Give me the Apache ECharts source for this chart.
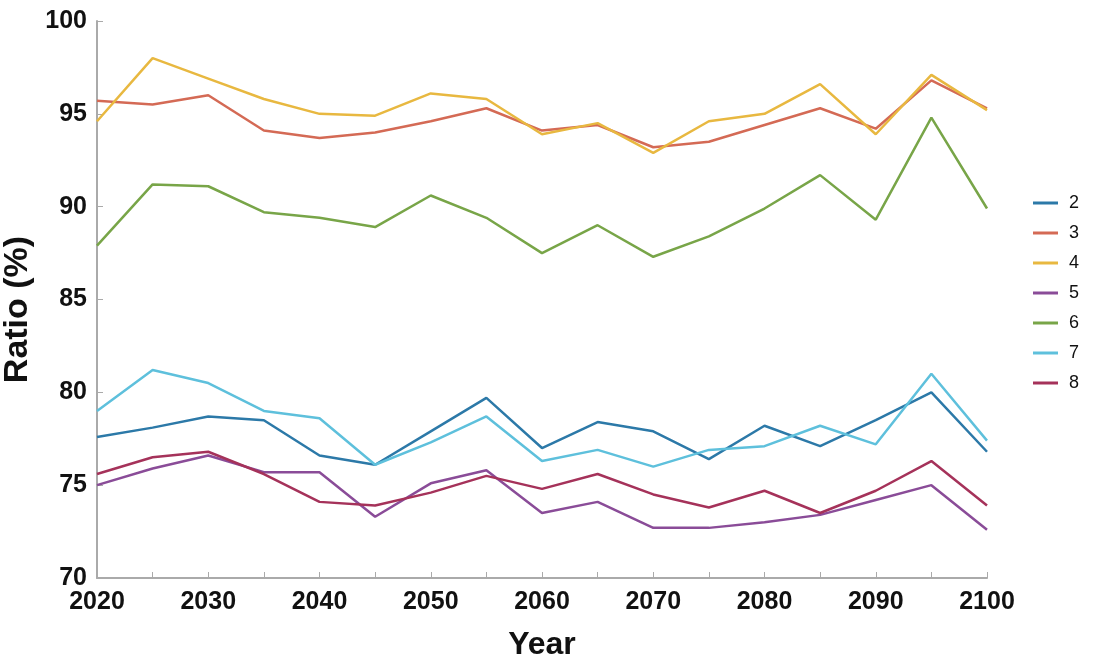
<!DOCTYPE html>
<html>
<head>
<meta charset="utf-8">
<script src="https://cdn.jsdelivr.net/npm/echarts@6/dist/echarts.min.js"></script>
<style>
html,body{margin:0;padding:0;background:#fff;}
#main{width:1096px;height:658px;}
</style>
</head>
<body>
<div id="main"></div>
<script>
// years on x axis, every 5 years
var years = [2020,2025,2030,2035,2040,2045,2050,2055,2060,2065,2070,2075,2080,2085,2090,2095,2100];
var names = ['2','3','4','5','6','7','8'];
var colors = ['#2c79a8','#d46a55','#e8b840','#8a4c98','#78a548','#5ec0dc','#a5325a'];

var s2 = [77.6,78.1,78.7,78.5,76.6,76.1,77.9,79.7,77.0,78.4,77.9,76.4,78.2,77.1,78.5,80.0,76.8];
var s3 = [95.7,95.5,96.0,94.1,93.7,94.0,94.6,95.3,94.1,94.4,93.2,93.5,94.4,95.3,94.2,96.8,95.3];
var s4 = [94.6,98.0,96.9,95.8,95.0,94.9,96.1,95.8,93.9,94.5,92.9,94.6,95.0,96.6,93.9,97.1,95.2];
var s5 = [75.0,75.9,76.6,75.7,75.7,73.3,75.1,75.8,73.5,74.1,72.7,72.7,73.0,73.4,74.2,75.0,72.6];
var s6 = [87.9,91.2,91.1,89.7,89.4,88.9,90.6,89.4,87.5,89.0,87.3,88.4,89.9,91.7,89.3,94.8,89.9];
var s7 = [79.0,81.2,80.5,79.0,78.6,76.1,77.3,78.7,76.3,76.9,76.0,76.9,77.1,78.2,77.2,81.0,77.4];
var s8 = [75.6,76.5,76.8,75.6,74.1,73.9,74.6,75.5,74.8,75.6,74.5,73.8,74.7,73.5,74.7,76.3,73.9];
var allData = [s2,s3,s4,s5,s6,s7,s8];

var series = [];
for(var i=0;i<names.length;i++){
	var pts = [];
	for(var j=0;j<years.length;j++){
		pts.push([years[j], allData[i][j]]);
	}
	series.push({
		name: names[i],
		type: 'line',
		data: pts,
		symbol: 'none',
		lineStyle: {width: 2.5, color: colors[i]},
		itemStyle: {color: colors[i]}
	});
}

var myChart = echarts.init(document.getElementById('main'));
var option = {
	animation: false,
	grid: {left: 97, right: 109, top: 21, bottom: 80, outerBoundsMode: 'none'},
	legend: {
		orient: 'vertical',
		right: 12,
		top: 189,
		itemWidth: 25,
		itemHeight: 3,
		itemGap: 12,
		icon: 'rect',
		textStyle: {fontFamily: 'Liberation Sans', fontSize: 18, color: '#111', padding: [0,0,0,6]},
		data: names
	},
	xAxis: {
		type: 'value',
		min: 2020,
		max: 2100,
		interval: 5,
		name: 'Year',
		nameLocation: 'middle',
		nameGap: 51,
		nameTextStyle: {fontFamily: 'Liberation Sans', fontSize: 32, fontWeight: 'bold', color: '#111'},
		axisLine: {lineStyle: {color: '#aaa', width: 2}},
		axisTick: {inside: true, length: 6, lineStyle: {color: '#aaa'}},
		splitLine: {show: false},
		axisLabel: {
			fontFamily: 'Liberation Sans', fontSize: 25, fontWeight: 'bold', color: '#111', margin: 12,
			formatter: function(v){ return v % 10 == 0 ? String(v) : ''; }
		}
	},
	yAxis: {
		type: 'value',
		min: 70,
		max: 100,
		interval: 5,
		name: 'Ratio (%)',
		nameLocation: 'middle',
		nameGap: 54,
		nameTextStyle: {fontFamily: 'Liberation Sans', fontSize: 34, fontWeight: 'bold', color: '#111', padding: [0,0,0,-20]},
		axisLine: {show: true, lineStyle: {color: '#aaa', width: 2}},
		axisTick: {show: true, inside: true, length: 6, lineStyle: {color: '#aaa'}},
		splitLine: {show: false},
		axisLabel: {fontFamily: 'Liberation Sans', fontSize: 25, fontWeight: 'bold', color: '#111', margin: 10}
	},
	series: series
};
myChart.setOption(option);
</script>
</body>
</html>
